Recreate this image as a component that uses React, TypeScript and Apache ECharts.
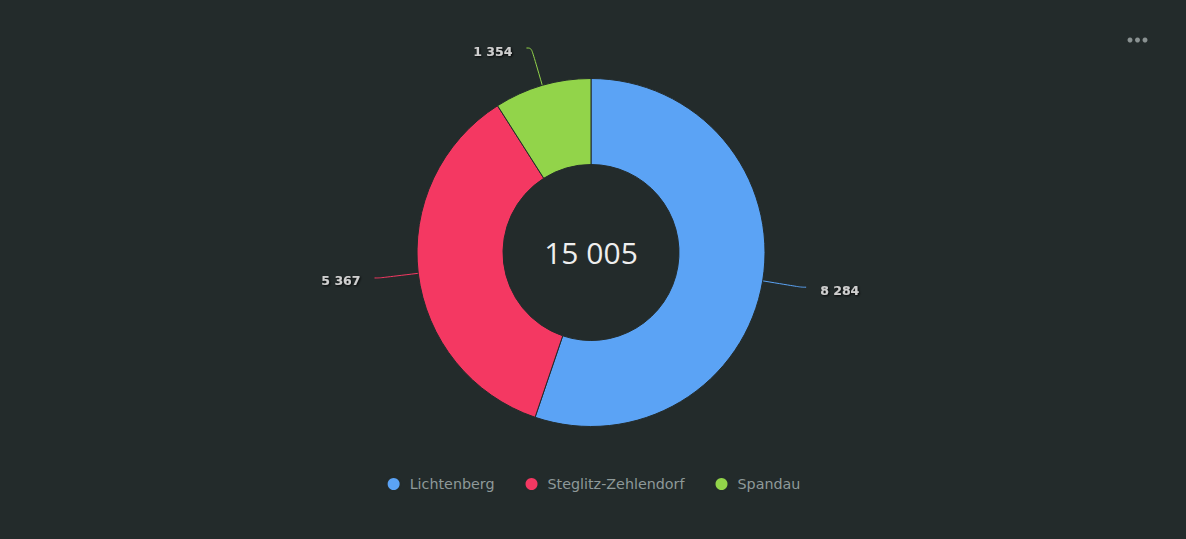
import React, { useEffect, useRef } from "react";
import * as echarts from "echarts";

const categories = ["Lichtenberg", "Steglitz-Zehlendorf", "Spandau"];
const values = [8284, 5367, 1354];
const colors = ["#5ba3f5", "#f43862", "#92d44a"];
const totalLabel = "15 005";

const fmt = (n: number) => String(n).replace(/\B(?=(\d{3})+(?!\d))/g, " ");

export default function App() {
  const ref = useRef<HTMLDivElement>(null);
  useEffect(() => {
    document.body.style.margin = "0";
    document.body.style.background = "#232b2b";
    const chart = echarts.init(ref.current!, null, { renderer: "svg" });
    chart.setOption({
      animation: false,
      backgroundColor: "#232b2b",
      textStyle: { fontFamily: "DejaVu Sans" },
      legend: {
        data: categories,
        top: 471,
        left: "center",
        icon: "circle",
        itemWidth: 14,
        itemHeight: 14,
        itemGap: 29,
        textStyle: {
          color: "#8e9999",
          fontSize: 14.3,
          fontFamily: "DejaVu Sans",
          padding: [0, 0, 0, 4],
        },
      },
      graphic: [
        {
          type: "text",
          x: 591,
          y: 252,
          style: {
            text: totalLabel,
            fill: "#eeeeee",
            fontSize: 30,
            fontFamily: "Open Sans",
            align: "center",
            verticalAlign: "middle",
          },
        },
        { type: "circle", shape: { cx: 1130, cy: 40, r: 2.5 }, style: { fill: "#8a9292" } },
        { type: "circle", shape: { cx: 1137.5, cy: 40, r: 2.5 }, style: { fill: "#8a9292" } },
        { type: "circle", shape: { cx: 1145, cy: 40, r: 2.5 }, style: { fill: "#8a9292" } },
      ],
      series: [
        {
          type: "pie",
          center: [591, 252.5],
          radius: [88, 174],
          startAngle: 90,
          clockwise: true,
          data: categories.map((name, i) => ({
            name,
            value: values[i],
            itemStyle: { color: colors[i] },
          })),
          itemStyle: { borderColor: "#232b2b", borderWidth: 1 },
          label: {
            show: true,
            position: "outside",
            formatter: (p: any) => fmt(p.value),
            color: "#cfcfcf",
            fontSize: 12.5,
            fontWeight: "bold",
            fontFamily: "DejaVu Sans",
            textShadowColor: "rgba(0,0,0,0.9)",
            textShadowBlur: 2,
            textShadowOffsetX: 1,
            textShadowOffsetY: 1,
            distanceToLabelLine: 14,
          },
          labelLayout: { dy: 3 },
          labelLine: {
            show: true,
            length: 39,
            length2: 5,
            smooth: 0.4,
            lineStyle: { width: 1 },
          },
          emphasis: { disabled: true },
        },
      ],
    });
    return () => chart.dispose();
  }, []);
  return <div ref={ref} style={{ width: 1186, height: 539, background: "#232b2b" }} />;
}
